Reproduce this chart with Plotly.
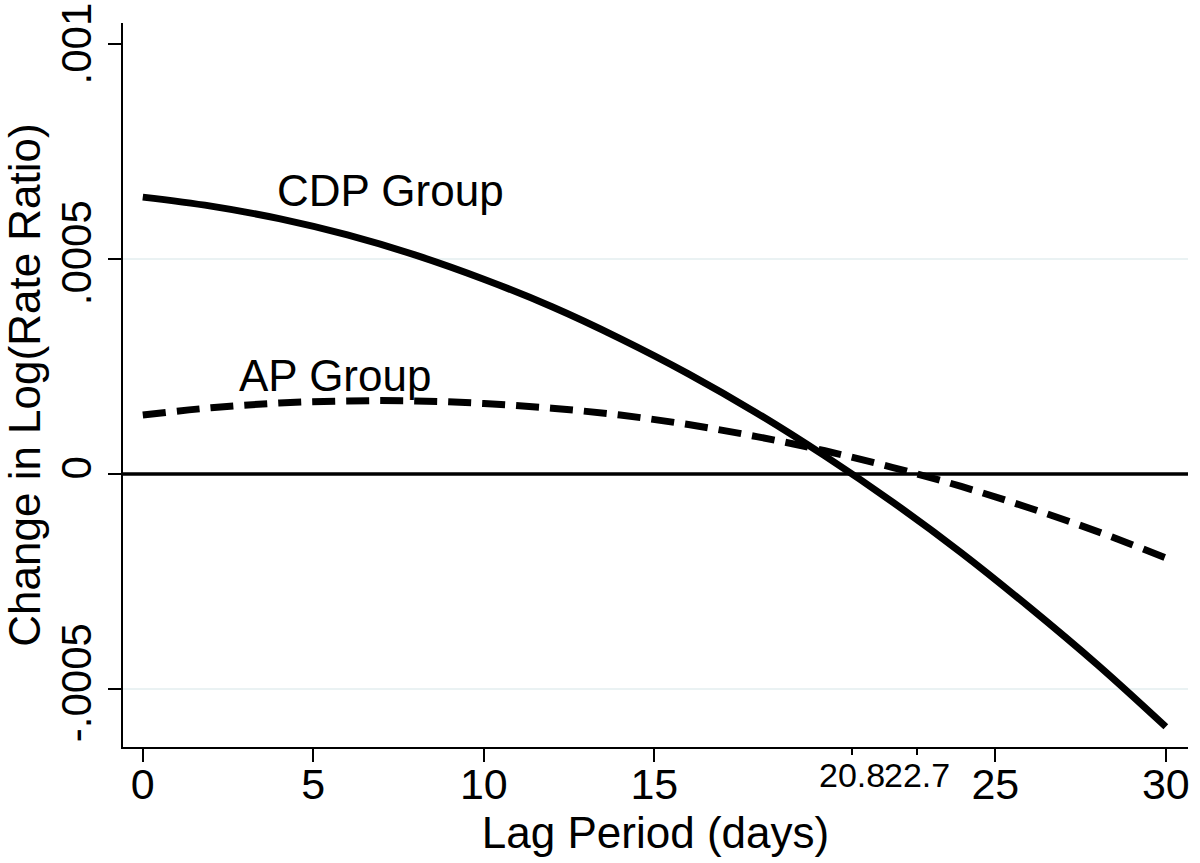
import plotly.graph_objects as go

# --- DATA ---
lag_days = [0, 2, 4, 6, 8, 10, 12, 14, 16, 18, 20, 22, 24, 26, 28, 30]
cdp_group = [0.000644, 0.000623, 0.000594, 0.000556, 0.000509, 0.000453, 0.000389,
             0.000315, 0.000233, 0.000142, 0.000042, -0.000066, -0.000183, -0.000310,
             -0.000444, -0.000588]
ap_group = [0.000137, 0.000154, 0.000165, 0.000170, 0.000170, 0.000164, 0.000153,
            0.000137, 0.000115, 0.000087, 0.000054, 0.000015, -0.000029, -0.000079,
            -0.000134, -0.000195]

x_ticks = [0, 5, 10, 15, 25, 30]
x_marks = [20.8, 22.7]          # zero crossings, labelled smaller
y_ticks = [-0.0005, 0, 0.0005, 0.001]
y_labels = ['-.0005', '0', '.0005', '.001&nbsp;']   # nbsp nudges top label off the edge
y_grid = [-0.0005, 0.0005]

FONT = 'Liberation Sans, Arial, Helvetica, sans-serif'


def build():
    fig = go.Figure()

    # CDP group - solid
    fig.add_trace(go.Scatter(
        x=lag_days, y=cdp_group, mode='lines', line_shape='spline',
        line=dict(color='black', width=7), name='CDP Group', showlegend=False
    ))

    # AP group - dashed
    fig.add_trace(go.Scatter(
        x=lag_days, y=ap_group, mode='lines', line_shape='spline',
        line=dict(color='black', width=7, dash='23px,11px'), name='AP Group', showlegend=False
    ))

    # reference line at zero
    fig.add_hline(y=0, line=dict(color='black', width=3.5))

    # curve labels
    fig.add_annotation(x=7.25, y=0.00066, text='CDP Group', showarrow=False,
                       font=dict(size=44, color='black', family=FONT))
    fig.add_annotation(x=5.64, y=0.000228, text='AP Group', showarrow=False,
                       font=dict(size=44, color='black', family=FONT))

    # small labels for the crossing points
    for v in x_marks:
        fig.add_annotation(x=v, y=0, yref='paper', yanchor='top', yshift=-7,
                           text=str(v), showarrow=False,
                           font=dict(size=34, color='black', family=FONT))

    fig.update_layout(
        width=1200, height=863,
        margin=dict(l=123, r=12, t=23, b=116),
        plot_bgcolor='white', paper_bgcolor='white',
        font=dict(family=FONT, color='black', size=44),
        showlegend=False
    )

    fig.update_xaxes(
        range=[-0.58, 30.65], tickvals=x_ticks, ticks='outside', ticklen=13,
        tickwidth=2, tickcolor='black', showline=True, linecolor='black', linewidth=2,
        showgrid=False, zeroline=False, tickfont=dict(size=43), ticklabelstandoff=-15,
        minor=dict(tickvals=x_marks, ticks='outside', ticklen=6, tickwidth=2, tickcolor='black'),
        title=dict(text='Lag Period (days)', font=dict(size=44), standoff=0),
        automargin=False
    )
    fig.update_yaxes(
        range=[-0.000635, 0.001049], tickvals=y_ticks, ticktext=y_labels,
        tickangle=-90, ticks='outside', ticklen=13, tickwidth=2, tickcolor='black',
        showline=True, linecolor='black', linewidth=2, ticklabeloverflow='allow',
        showgrid=False, zeroline=False, tickfont=dict(size=42),
        minor=dict(tickvals=y_grid, ticks='', showgrid=True, gridcolor='#eaf2f3', gridwidth=2),
        title=dict(text='Change in Log(Rate Ratio)', font=dict(size=44), standoff=6),
        automargin=False
    )

    # drop the default body margin so the figure sits at the page corner
    fig.write_html('out.html', config={'displayModeBar': False},
                   post_script="document.body.style.margin='0px';")
    return fig


if __name__ == '__main__':
    build()
